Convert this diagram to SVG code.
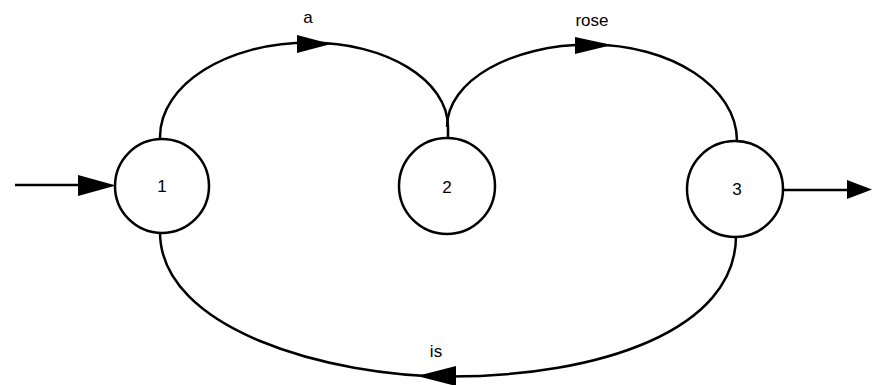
<svg xmlns="http://www.w3.org/2000/svg" width="873" height="385" viewBox="0 0 873 385">
<style>
.node{fill:#fff;stroke:#000;stroke-width:2.5}
.edge{fill:none;stroke:#000;stroke-width:2.5}
.head{fill:#000;stroke:none}
.lbl{font-family:"Liberation Sans",Arial,sans-serif;font-size:17px;fill:#000;text-anchor:middle}
</style>
<rect width="873" height="385" fill="#fff"/>
<g id="connectors">
<g id="start-edge">
<line class="edge" x1="15" y1="185" x2="90" y2="185"/>
<polygon class="head" points="78,175 116,185.5 78,196"/>
</g>
<g id="edge-1-2">
<path class="edge" d="M160,140 L160,137 C160,84.5 227,42.5 310,42.5 C386,42.5 448,80 448,127 L448,139"/>
<polygon class="head" points="297,35 331,44 297,53"/>
<text class="lbl" x="308" y="23">a</text>
</g>
<g id="edge-2-3">
<path class="edge" d="M447,127 C447,81 511,44.5 590,44.5 C671,44.5 737,87 737,141"/>
<polygon class="head" points="575,37 612,45 575,54"/>
<text class="lbl" x="592" y="26">rose</text>
</g>
<g id="edge-3-1">
<path class="edge" d="M736,236 C736,330 600,376.5 450,376.5 C330,376.5 160,330 160,232"/>
<polygon class="head" points="456,366 417,376 456,386"/>
<text class="lbl" x="436" y="357">is</text>
</g>
<g id="final-edge">
<line class="edge" x1="783" y1="190" x2="855" y2="190"/>
<polygon class="head" points="847,180 872,189.5 847,199"/>
</g>
</g>
<g id="node-1">
<circle class="node" cx="162" cy="186" r="47"/>
<text class="lbl" x="162" y="192">1</text>
</g>
<g id="node-2">
<circle class="node" cx="447" cy="186" r="48"/>
<text class="lbl" x="447" y="193">2</text>
</g>
<g id="node-3">
<circle class="node" cx="735" cy="189" r="48"/>
<text class="lbl" x="737" y="195">3</text>
</g>
</svg>
